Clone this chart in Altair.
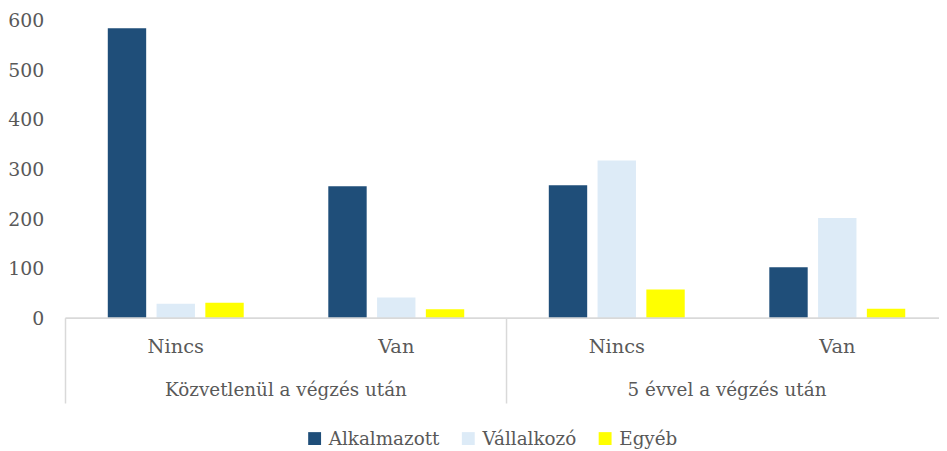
import altair as alt
import pandas as pd

groups = ["Közvetlenül a végzés után", "Közvetlenül a végzés után",
          "5 évvel a végzés után", "5 évvel a végzés után"]
subcats = ["Nincs", "Van", "Nincs", "Van"]
series = ["Alkalmazott", "Vállalkozó", "Egyéb"]
alkalmazott = [585, 266, 268, 103]
vallalkozo = [29, 42, 318, 202]
egyeb = [31, 18, 58, 19]
colors = ["#1F4E79", "#DDEBF7", "#FFFF00"]
y_ticks = [0, 100, 200, 300, 400, 500, 600]

FONT = "DejaVu Serif"
GREY = "#595959"
LINE = "#D9D9D9"

cats = [f"{g}|{s}" for g, s in zip(groups, subcats)]
rows = []
for i, c in enumerate(cats):
    for s, vals in zip(series, [alkalmazott, vallalkozo, egyeb]):
        rows.append({"cat": c, "series": s, "value": vals[i]})
df = pd.DataFrame(rows)

group_names = list(dict.fromkeys(groups))
group_first = [cats[groups.index(g)] for g in group_names]
df_groups = pd.DataFrame({"cat": group_first, "label": group_names})

# the original chart is cropped on the right: its category bands run past the image edge
xscale = alt.Scale(domain=cats, range=[0, 889.6], paddingInner=0, paddingOuter=0)

bars = alt.Chart(df).mark_bar().encode(
    x=alt.X("cat:N", scale=xscale, sort=cats,
            axis=alt.Axis(title=None, labelExpr="split(datum.label, '|')[1]",
                          labelAngle=0, ticks=False, tickSize=0, domain=False,
                          labelFont=FONT, labelFontSize=19.5, labelColor=GREY,
                          labelBaseline="alphabetic", labelPadding=35)),
    xOffset=alt.XOffset("series:N", sort=series,
                        scale=alt.Scale(domain=series, paddingInner=0.213, paddingOuter=0.867)),
    y=alt.Y("value:Q", scale=alt.Scale(domain=[0, 600], nice=False),
            axis=alt.Axis(title=None, values=y_ticks, domain=False, ticks=False,
                          grid=False, labelFont=FONT, labelFontSize=19,
                          labelColor=GREY, labelPadding=22)),
    color=alt.Color("series:N", sort=series,
                    scale=alt.Scale(domain=series, range=colors),
                    legend=alt.Legend(title=None, orient="none", legendX=242, legendY=412,
                                      direction="horizontal", symbolType="square",
                                      symbolSize=169, symbolStrokeWidth=0,
                                      labelFont=FONT, labelFontSize=18.5, labelColor=GREY,
                                      columnPadding=19, labelOffset=5, padding=0)),
)

baseline = alt.Chart(df_groups).mark_rule(color=LINE, strokeWidth=1.5).encode(
    y=alt.datum(0),
)

seps = alt.Chart(df_groups).mark_rule(color=LINE, strokeWidth=1.5).encode(
    x=alt.X("cat:N", bandPosition=0),
    y=alt.value(300),
    y2=alt.value(386),
)

glabels = alt.Chart(df_groups).mark_text(
    font=FONT, fontSize=18.5, color=GREY, baseline="alphabetic", align="center"
).encode(
    x=alt.X("cat:N", bandPosition=1),
    y=alt.value(378),
    text="label:N",
)

chart = alt.layer(bars, baseline, seps, glabels).properties(
    width=881, height=300,
    autosize=alt.AutoSizeParams(type="none"),
    padding={"left": 58, "top": 11, "right": 0, "bottom": 131},
).configure_view(stroke=None)

chart.save("out.html", embed_options={"renderer": "svg", "actions": False})
